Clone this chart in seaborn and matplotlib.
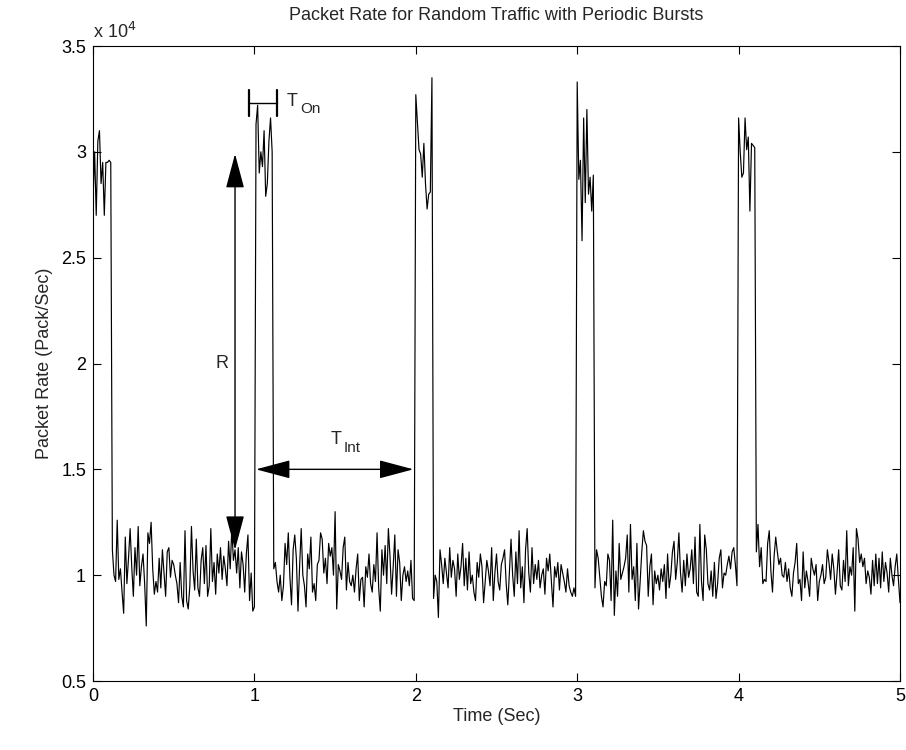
import numpy as np
import pandas as pd
import matplotlib
matplotlib.use("Agg")
import matplotlib.pyplot as plt
import seaborn as sns

# Packet rate, in units of 100 packets/s (i.e. 1e4 * value/100)
# each segment: (start time, end time, values)
burst0_t = (0.00, 0.11)
burst0 = [277, 300, 270, 305, 310, 285, 295, 270, 295, 295, 296, 295]
noise0_t = (0.12, 0.99)
noise0 = [112, 100, 97, 126, 98, 103, 92, 82, 118, 96, 108, 122, 104, 90, 113, 100, 123, 95, 104, 110,
          96, 76, 120, 115, 125, 103, 91, 97, 92, 108, 94, 112, 101, 90, 111, 113, 99, 107, 105, 100,
          96, 87, 106, 90, 85, 121, 88, 84, 95, 123, 102, 93, 117, 94, 90, 107, 113, 96, 114, 90,
          95, 122, 97, 106, 91, 110, 101, 113, 98, 109, 103, 95, 116, 103, 122, 107, 112, 101, 113, 94,
          111, 105, 92, 110, 119, 88, 101, 83]
burst1_t = (1.00, 1.11)
burst1 = [85, 313, 322, 290, 300, 293, 310, 279, 285, 305, 316, 300]
noise1_t = (1.12, 1.99)
noise1 = [103, 106, 97, 92, 100, 88, 95, 115, 105, 120, 99, 86, 112, 119, 108, 83, 104, 122, 100, 95,
          85, 110, 103, 118, 92, 96, 88, 105, 107, 120, 117, 101, 108, 96, 115, 109, 113, 100, 130, 84,
          105, 102, 98, 113, 118, 93, 106, 97, 95, 100, 92, 103, 110, 88, 98, 99, 85, 104, 99, 110,
          96, 92, 105, 97, 120, 94, 83, 112, 100, 114, 96, 122, 109, 91, 104, 119, 90, 112, 106, 88,
          100, 104, 97, 102, 95, 107, 89, 88]
burst2_t = (2.00, 2.10)
burst2 = [327, 314, 301, 299, 288, 304, 285, 273, 280, 281, 335]
noise2_t = (2.11, 2.99)
noise2 = [89, 100, 97, 80, 112, 105, 96, 108, 101, 94, 113, 99, 107, 103, 90, 110, 98, 104, 115, 95,
          108, 93, 111, 96, 100, 92, 88, 106, 99, 110, 104, 87, 97, 107, 102, 95, 113, 88, 101, 110,
          97, 93, 105, 108, 112, 96, 86, 101, 117, 100, 90, 111, 96, 121, 94, 104, 87, 112, 122, 101,
          92, 113, 96, 105, 98, 107, 94, 100, 103, 91, 108, 102, 110, 97, 85, 104, 99, 106, 93, 105,
          101, 97, 92, 103, 95, 92, 90, 94, 90]
burst3_t = (3.00, 3.10)
burst3 = [333, 287, 296, 258, 316, 276, 320, 280, 288, 272, 289]
noise3_t = (3.11, 3.99)
noise3 = [94, 112, 108, 99, 90, 85, 97, 95, 110, 107, 88, 126, 81, 102, 90, 115, 98, 101, 104, 108,
          119, 92, 124, 98, 104, 88, 115, 84, 97, 111, 121, 116, 114, 90, 104, 110, 86, 102, 96, 100,
          93, 103, 97, 105, 89, 110, 94, 100, 111, 116, 98, 106, 120, 101, 92, 107, 95, 110, 99, 103,
          112, 96, 118, 92, 90, 124, 97, 88, 119, 112, 96, 93, 102, 90, 106, 89, 96, 108, 112, 94,
          101, 100, 105, 109, 103, 111, 113, 105, 95]
burst4_t = (4.00, 4.10)
burst4 = [316, 300, 288, 290, 316, 301, 307, 272, 304, 303, 302]
noise4_t = (4.11, 5.00)
noise4 = [111, 124, 104, 113, 96, 98, 97, 115, 121, 102, 92, 109, 118, 111, 105, 108, 100, 99, 106, 97,
          103, 94, 90, 101, 106, 115, 96, 98, 88, 111, 94, 102, 97, 90, 108, 103, 100, 105, 88, 97,
          100, 105, 96, 99, 112, 106, 98, 110, 103, 91, 101, 112, 95, 93, 107, 97, 121, 95, 104, 100,
          113, 83, 122, 117, 106, 110, 104, 108, 96, 102, 99, 91, 107, 95, 110, 96, 108, 94, 111, 97,
          106, 101, 92, 108, 100, 95, 104, 110, 98, 87]

segments = [(burst0_t, burst0), (noise0_t, noise0), (burst1_t, burst1), (noise1_t, noise1),
            (burst2_t, burst2), (noise2_t, noise2), (burst3_t, burst3), (noise3_t, noise3),
            (burst4_t, burst4), (noise4_t, noise4)]

ts, vs = [], []
for (t0, t1), vals in segments:
    ts.append(np.linspace(t0, t1, len(vals)))
    vs.append(np.array(vals, dtype=float) / 100.0)
df = pd.DataFrame({"Time": np.concatenate(ts), "Rate": np.concatenate(vs)})

title = "Packet Rate for Random Traffic with Periodic Bursts"
xlabel = "Time (Sec)"
ylabel = "Packet Rate (Pack/Sec)"
xticks = [0, 1, 2, 3, 4, 5]
yticks = [0.5, 1, 1.5, 2, 2.5, 3, 3.5]
ytick_labels = ["0.5", "1", "1.5", "2", "2.5", "3", "3.5"]

sns.set_style("white")
plt.rcParams["font.family"] = ["Liberation Sans", "DejaVu Sans"]

fig = plt.figure(figsize=(9.06, 7.5), dpi=100)
ax = fig.add_axes([93 / 906, 1 - 681 / 750, 807 / 906, 635 / 750])
sns.lineplot(data=df, x="Time", y="Rate", ax=ax, color="black", linewidth=0.85,
             sort=False, estimator=None)

ax.set_xlim(0, 5)
ax.set_ylim(0.5, 3.5)
ax.set_xticks(xticks)
ax.set_xticklabels([str(x) for x in xticks])
ax.set_yticks(yticks)
ax.set_yticklabels(ytick_labels)
ax.tick_params(direction="in", length=6, width=0.8, labelsize=13, top=True, right=True,
               bottom=True, left=True, colors="black", pad=5)
for s in ax.spines.values():
    s.set_visible(True)
    s.set_color("black")
    s.set_linewidth(0.8)
ax.set_xlabel(xlabel, fontsize=13, labelpad=2)
ax.set_ylabel(ylabel, fontsize=13, labelpad=6)
ax.set_title(title, fontsize=13, pad=19)
ax.text(0.0, 1.006, r"x 10$^{4}$", transform=ax.transAxes, fontsize=13, ha="left", va="bottom")

# Annotations
arrow_kw = dict(arrowstyle="<|-|>,head_length=1.2,head_width=0.32", color="black", lw=1,
                shrinkA=0, shrinkB=0, mutation_scale=18)
ax.annotate("", xy=(0.88, 2.99), xytext=(0.88, 1.12), arrowprops=arrow_kw)
ax.text(0.80, 2.0, "R", fontsize=13, ha="center", va="center")
ax.annotate("", xy=(1.01, 1.5), xytext=(1.985, 1.5), arrowprops=arrow_kw)
ax.text(1.47, 1.6, "T", fontsize=13, ha="left", va="bottom")
ax.text(1.555, 1.57, "Int", fontsize=11, ha="left", va="bottom")
# T_On bracket
ax.plot([0.966, 1.14], [3.23, 3.23], color="black", lw=1)
ax.plot([0.966, 0.966], [3.17, 3.29], color="black", lw=1.6)
ax.plot([1.14, 1.14], [3.17, 3.29], color="black", lw=1.6)
ax.text(1.2, 3.2, "T", fontsize=13, ha="left", va="bottom")
ax.text(1.285, 3.17, "On", fontsize=11, ha="left", va="bottom")

fig.savefig("out.png", dpi=100)
